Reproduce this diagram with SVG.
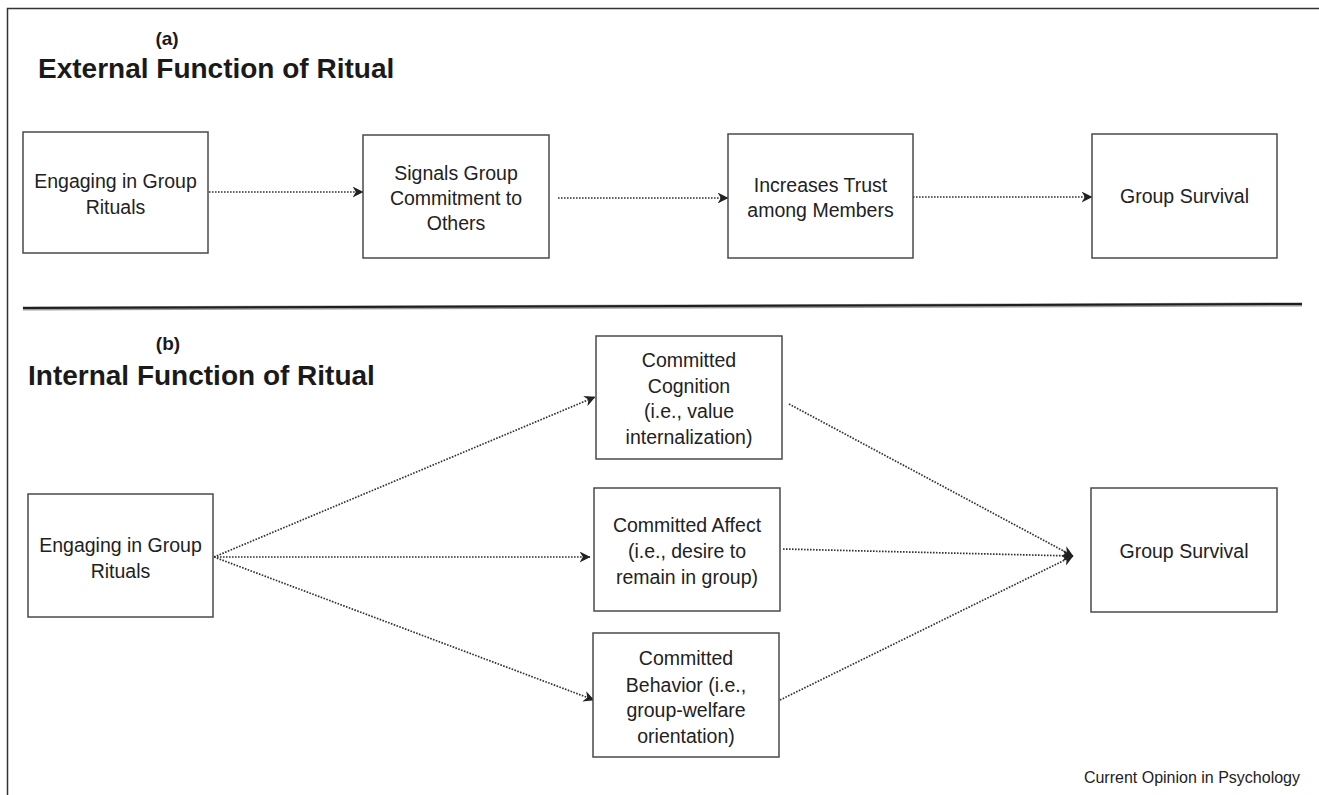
<svg xmlns="http://www.w3.org/2000/svg" width="1319" height="795" viewBox="0 0 1319 795">
<defs>
<style>
.box{fill:#fff;stroke:#4a4a4a;stroke-width:1.5}
.t{font-family:"Liberation Sans",Arial,sans-serif;font-size:19.5px;fill:#222;text-anchor:middle}
.h{font-family:"Liberation Sans",Arial,sans-serif;font-weight:bold;fill:#1a1a1a}
.c{fill:none;stroke:#333;stroke-width:1.7;stroke-dasharray:1.6 1.4}
</style>
<marker id="ah" viewBox="0 0 10 10" refX="9.5" refY="5" markerWidth="11" markerHeight="11" markerUnits="userSpaceOnUse" orient="auto">
<path d="M0,0 L10,5 L0,10 L3,5 z" fill="#222"/>
</marker>
</defs>
<rect width="1319" height="795" fill="#fff"/>
<g id="frame">
<path d="M7.5,795 V8.5 H1319" fill="none" stroke="#333" stroke-width="1.5"/>
<line x1="23" y1="308.5" x2="1302" y2="304.5" stroke="#9a9a9a" stroke-width="4"/>
<line x1="23" y1="308" x2="1302" y2="304" stroke="#1e1e1e" stroke-width="2"/>
</g>
<g id="titles">
<text class="h" x="167" y="45" font-size="19" text-anchor="middle">(a)</text>
<text class="h" x="38" y="78" font-size="28">External Function of Ritual</text>
<text class="h" x="168" y="350" font-size="19" text-anchor="middle">(b)</text>
<text class="h" x="28" y="385" font-size="28">Internal Function of Ritual</text>
</g>
<g id="connectors">
<line class="c" x1="209" y1="192" x2="363" y2="192" marker-end="url(#ah)"/>
<line class="c" x1="558" y1="198" x2="728" y2="198" marker-end="url(#ah)"/>
<line class="c" x1="913" y1="197" x2="1092" y2="197" marker-end="url(#ah)"/>
<line class="c" x1="214" y1="557" x2="595" y2="397" marker-end="url(#ah)"/>
<line class="c" x1="214" y1="557" x2="590" y2="557" marker-end="url(#ah)"/>
<line class="c" x1="214" y1="557" x2="594" y2="700" marker-end="url(#ah)"/>
<line class="c" x1="789" y1="404" x2="1073" y2="556" marker-end="url(#ah)"/>
<line class="c" x1="783" y1="549" x2="1073" y2="556" marker-end="url(#ah)"/>
<line class="c" x1="780" y1="700" x2="1073" y2="556" marker-end="url(#ah)"/>
</g>
<g id="a1">
<rect class="box" x="23" y="132" width="185" height="121"/>
<text class="t" x="115.5" y="188">Engaging in Group</text>
<text class="t" x="115.5" y="214">Rituals</text>
</g>
<g id="a2">
<rect class="box" x="363" y="135" width="186" height="123"/>
<text class="t" x="456" y="180">Signals Group</text>
<text class="t" x="456" y="205">Commitment to</text>
<text class="t" x="456" y="230">Others</text>
</g>
<g id="a3">
<rect class="box" x="728" y="134" width="185" height="124"/>
<text class="t" x="820.5" y="192">Increases Trust</text>
<text class="t" x="820.5" y="217">among Members</text>
</g>
<g id="a4">
<rect class="box" x="1092" y="134" width="185" height="124"/>
<text class="t" x="1184.5" y="203">Group Survival</text>
</g>
<g id="b1">
<rect class="box" x="28" y="494" width="185" height="123"/>
<text class="t" x="120.5" y="552">Engaging in Group</text>
<text class="t" x="120.5" y="578">Rituals</text>
</g>
<g id="b2">
<rect class="box" x="596" y="336" width="186" height="123"/>
<text class="t" x="689" y="367">Committed</text>
<text class="t" x="689" y="393">Cognition</text>
<text class="t" x="689" y="418">(i.e., value</text>
<text class="t" x="689" y="444">internalization)</text>
</g>
<g id="b3">
<rect class="box" x="594" y="488" width="186" height="123"/>
<text class="t" x="687" y="532">Committed Affect</text>
<text class="t" x="687" y="558">(i.e., desire to</text>
<text class="t" x="687" y="584">remain in group)</text>
</g>
<g id="b4">
<rect class="box" x="593" y="633" width="186" height="124"/>
<text class="t" x="686" y="665">Committed</text>
<text class="t" x="686" y="692">Behavior (i.e.,</text>
<text class="t" x="686" y="717">group-welfare</text>
<text class="t" x="686" y="743">orientation)</text>
</g>
<g id="b5">
<rect class="box" x="1091" y="488" width="186" height="124"/>
<text class="t" x="1184" y="558">Group Survival</text>
</g>
<g id="credit">
<text x="1300" y="783" font-family="'Liberation Sans',Arial,sans-serif" font-size="16" fill="#222" text-anchor="end">Current Opinion in Psychology</text>
</g>
</svg>
